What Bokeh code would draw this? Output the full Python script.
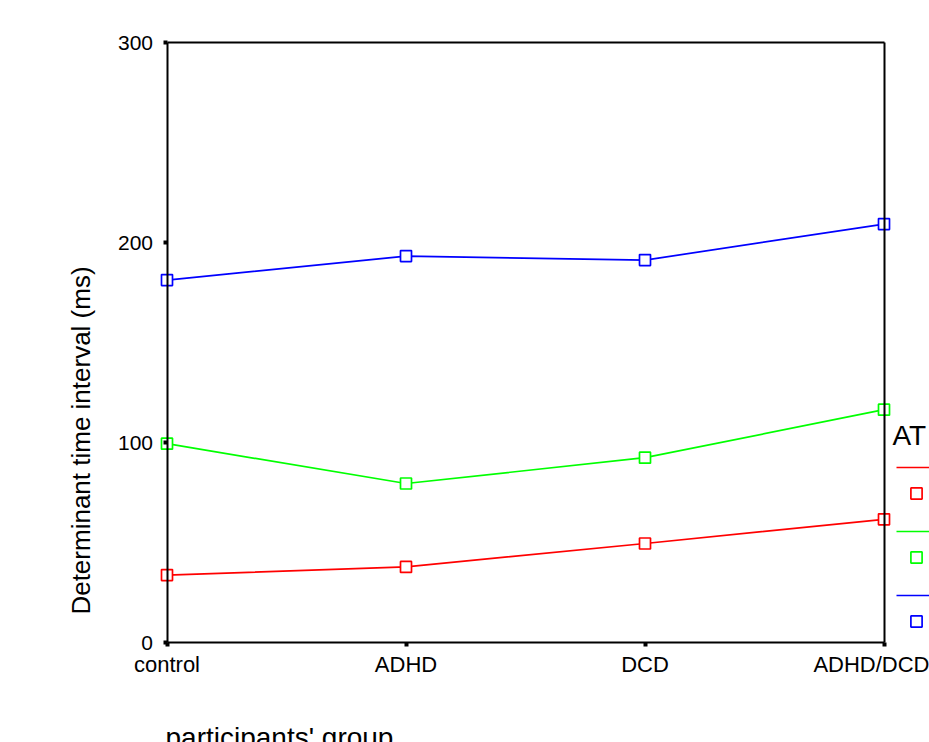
from bokeh.plotting import figure
from bokeh.models import (Range1d, LinearAxis, FixedTicker, CustomJSTickFormatter,
                          Legend, LegendItem, Label)
from bokeh.embed import file_html
from bokeh.resources import INLINE
import math

# ---- data ----
groups = ["control", "ADHD", "DCD", "ADHD/DCD"]
at_red = [33.7, 37.8, 49.5, 61.6]
at_green = [99.4, 79.5, 92.4, 116.4]
at_blue = [181.2, 193.2, 191.2, 209.2]
y_ticks = [0, 100, 200, 300]
y_label = "Determinant time interval (ms)"
x_label = "participants' group"
legend_title = "AT"

FONT = "Liberation Sans"
xs = list(range(len(groups)))

# ---- layout (pixels) ----
W, H = 929, 742
BOX_L, BOX_R = 166.5, 883.5     # axis box, canvas px
BOX_T, BOX_B = 42.0, 642.0
ppx = (BOX_R - BOX_L) / (len(groups) - 1)
ppy = (BOX_B - BOX_T) / (y_ticks[-1] - y_ticks[0])
x_range = Range1d(0 - BOX_L / ppx, (len(groups) - 1) + (W - BOX_R) / ppx)
y_range = Range1d(y_ticks[0] - (H - BOX_B) / ppy, y_ticks[-1] + BOX_T / ppy)

p = figure(width=W, height=H, output_backend="svg", toolbar_location=None,
           x_axis_type=None, y_axis_type=None,
           x_range=x_range, y_range=y_range,
           min_border=0, min_border_left=0, min_border_right=0,
           min_border_top=0, min_border_bottom=0)
p.outline_line_color = None
p.background_fill_color = "white"
p.border_fill_color = "white"

def style_axis(ax):
    ax.axis_line_color = "black"
    ax.axis_line_width = 2
    ax.major_tick_line_color = "black"
    ax.major_tick_line_width = 4
    ax.major_tick_out = 4
    ax.major_tick_in = 0
    ax.minor_tick_line_color = None
    ax.major_label_text_font = FONT
    ax.major_label_text_font_size = "21px"
    ax.major_label_text_color = "black"

yax = LinearAxis(fixed_location=0, bounds=(y_ticks[0], y_ticks[-1]),
                 ticker=FixedTicker(ticks=y_ticks))
style_axis(yax)
yax.major_label_standoff = 10
p.add_layout(yax, "left")

xax = LinearAxis(fixed_location=y_ticks[0], bounds=(0, len(groups) - 1),
                 ticker=FixedTicker(ticks=xs),
                 formatter=CustomJSTickFormatter(args=dict(cats=groups),
                                                 code="return cats[Math.round(tick)] || '';"))
style_axis(xax)
xax.major_label_text_font_size = "22px"
xax.major_label_standoff = 5
p.add_layout(xax, "below")

tax = LinearAxis(fixed_location=y_ticks[-1], bounds=(0, len(groups) - 1),
                 ticker=FixedTicker(ticks=[]))
style_axis(tax)
tax.major_label_text_font_size = "0px"
p.add_layout(tax, "above")

rax = LinearAxis(fixed_location=len(groups) - 1, bounds=(y_ticks[0], y_ticks[-1]),
                 ticker=FixedTicker(ticks=[]))
style_axis(rax)
rax.major_label_text_font_size = "0px"
p.add_layout(rax, "right")

series = [(at_red, "#ff0000"), (at_green, "#00ff00"), (at_blue, "#0000ff")]
line_rs, mark_rs = [], []
for vals, col in series:
    line_rs.append(p.line(xs, vals, line_color=col, line_width=1.7))
for vals, col in series:
    mark_rs.append(p.scatter(xs, vals, marker="square", size=11, line_color=col,
                             fill_color="white", line_width=1.7))

def mk_legend(rs, gh, sp, loc):
    lg = Legend(items=[LegendItem(label=" ", renderers=[r]) for r in rs],
                location=loc, orientation="vertical",
                glyph_width=40, glyph_height=gh, spacing=sp,
                padding=0, margin=0, label_standoff=5,
                label_height=10, label_width=5,
                label_text_font=FONT, label_text_font_size="10px",
                border_line_color=None, background_fill_alpha=0)
    p.add_layout(lg, "center")

mk_legend(line_rs, 20, 44, (896, 137))
mk_legend(mark_rs, 28, 36, (896, 107))

p.add_layout(Label(x=892, y=307, x_units="screen", y_units="screen",
                   text=legend_title, text_font=FONT, text_font_size="28px",
                   text_align="left", text_baseline="alphabetic", text_color="black"))
p.add_layout(Label(x=80, y=302, x_units="screen", y_units="screen",
                   text=y_label, angle=math.pi / 2, text_font=FONT,
                   text_font_size="26px", text_align="center",
                   text_baseline="middle", text_color="black"))
p.add_layout(Label(x=165, y=5, x_units="screen", y_units="screen",
                   text=x_label, text_font=FONT, text_font_size="28px",
                   text_align="left", text_baseline="alphabetic", text_color="black"))

open("out.html", "w").write(file_html(p, INLINE))
